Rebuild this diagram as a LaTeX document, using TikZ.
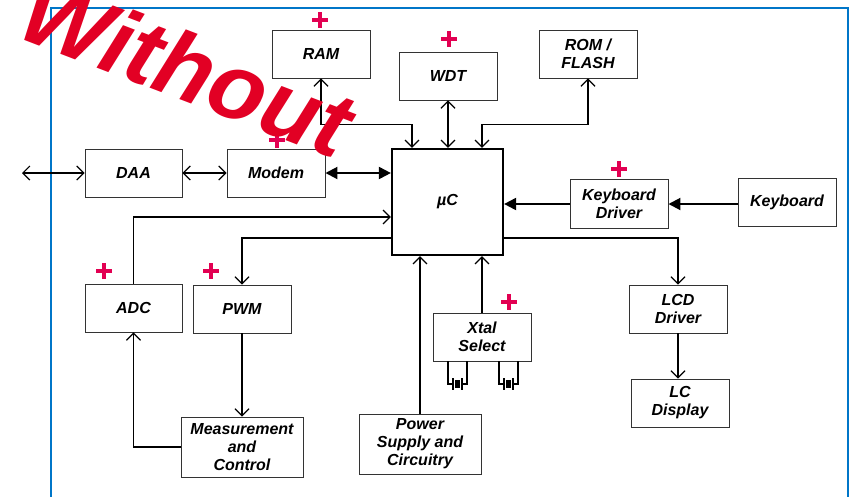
\documentclass[tikz,border=0pt]{standalone}
\usepackage{fontspec}
\setmainfont{Liberation Sans}
\usetikzlibrary{arrows.meta}
\definecolor{frameblue}{RGB}{0,118,200}
\definecolor{wmred}{RGB}{226,0,36}
\definecolor{plusred}{RGB}{226,0,82}
\begin{document}
\begin{tikzpicture}[x=1pt,y=-1pt,
  blk/.style={draw=black!80, line width=0.95pt, fill=white, align=center, inner sep=0pt,
    font=\fontsize{16}{18}\selectfont\bfseries\itshape, minimum width=98pt, minimum height=48pt},
  conn/.style={line width=1.2pt, draw=black},
  oa/.style={conn, -{Straight Barb[length=7pt,width=14pt,line width=1.2pt]}},
  boa/.style={conn, {Straight Barb[length=7pt,width=14pt,line width=1.2pt]}-{Straight Barb[length=7pt,width=14pt,line width=1.2pt]}},
  fa/.style={line width=2pt, draw=black, -{Triangle[length=12pt,width=12pt]}},
  bfa/.style={line width=2pt, draw=black, {Triangle[length=12pt,width=12pt]}-{Triangle[length=12pt,width=12pt]}},
  plusst/.style={draw=plusred, line width=3.6pt},
  xtal/.style={line width=1.1pt, draw=black},
  wm/.style={text=wmred, font=\fontsize{93}{93}\selectfont\bfseries\itshape, inner sep=0pt}
]
\useasboundingbox (0,0) rectangle (854,496);
\clip (0,0) rectangle (854,496);
\fill[white] (0,0) rectangle (854,496);
% frame
\draw[frameblue, line width=2pt] (51,510) -- (51,8) -- (848,8) -- (848,510);

% blocks
\node[blk] (ram) at (321,54) {RAM};
\node[blk] (wdt) at (448,76) {WDT};
\node[blk] (rom) at (588,54) {ROM /\\FLASH};
\node[blk, line width=2.2pt, draw=black, minimum width=111pt, minimum height=106pt] (uc) at (447.5,202) {µC};
\node[blk, minimum height=49pt] (kbddrv) at (619,204) {Keyboard\\Driver};
\node[blk] (kbd) at (787,202) {Keyboard};
\node[blk, minimum width=97pt] (daa) at (133.5,173) {DAA};
\node[blk] (modem) at (276,173) {Modem};
\node[blk, minimum width=97pt] (adc) at (133.5,308) {ADC};
\node[blk] (pwm) at (242,309) {PWM};
\node[blk, minimum width=122pt, minimum height=60pt] (meas) at (242,447) {Measurement\\and\\Control};
\node[blk, minimum width=122pt, minimum height=60pt] (power) at (420,444) {Power\\Supply and\\Circuitry};
\node[blk] (xtal) at (482,337) {Xtal\\Select};
\node[blk] (lcd) at (678,309) {LCD\\Driver};
\node[blk] (lc) at (680,403) {LC\\Display};

\coordinate (ext) at (22,173);

% connectors
\draw[boa] (ext) -- (daa.west);
\draw[boa] (daa.east) -- (modem.west);
\draw[bfa] (modem.east) -- (modem.east -| uc.west);
\draw[boa] (ram.south) -- ++(0,46) -| ([xshift=-35.5pt]uc.north);
\draw[boa] (wdt.south) -- (wdt.south |- uc.north);
\draw[boa] (rom.south) -- ++(0,46) -| ([xshift=34.5pt]uc.north);
\draw[fa] (kbd.west |- kbddrv.east) -- (kbddrv.east);
\draw[fa] (kbddrv.west) -- (kbddrv.west -| uc.east);
\draw[oa] (adc.north) |- ([yshift=-15pt]uc.west);
\draw[oa] ([yshift=-36pt]uc.west) -| (pwm.north);
\draw[oa] (pwm.south) -- (meas.north);
\draw[oa] (meas.west) -| (adc.south);
\draw[oa] (power.north) -- (power.north |- uc.south);
\draw[oa] (xtal.north) -- (xtal.north |- uc.south);
\draw[oa] ([yshift=-36pt]uc.east) -| (lcd.north);
\draw[oa] (lcd.south) -- (lcd.south |- lc.north);

% crystals
\foreach \xa/\xb in {448/467, 499/518} {
  \draw[xtal] (\xa,361) -- (\xa,384) -- (\xa+5,384);
  \draw[xtal] (\xb,361) -- (\xb,384) -- (\xb-5,384);
  \draw[line width=1.4pt] (\xa+5,378) -- (\xa+5,390);
  \draw[line width=1.4pt] (\xb-5,378) -- (\xb-5,390);
  \fill[black] ({(\xa+\xb)/2-2.5},380) rectangle ({(\xa+\xb)/2+2.5},388);
}

% plus signs
\foreach \px/\py in {320/20, 449/39, 277/140, 619/169, 104/271, 211/271, 509/302} {
  \draw[plusst] (\px-8,\py) -- (\px+8,\py) (\px,\py-8) -- (\px,\py+8);
}

% watermark
\node[wm, rotate=-21, anchor=base west] (wmk) at (14,36) {Without};
\end{tikzpicture}
\end{document}
